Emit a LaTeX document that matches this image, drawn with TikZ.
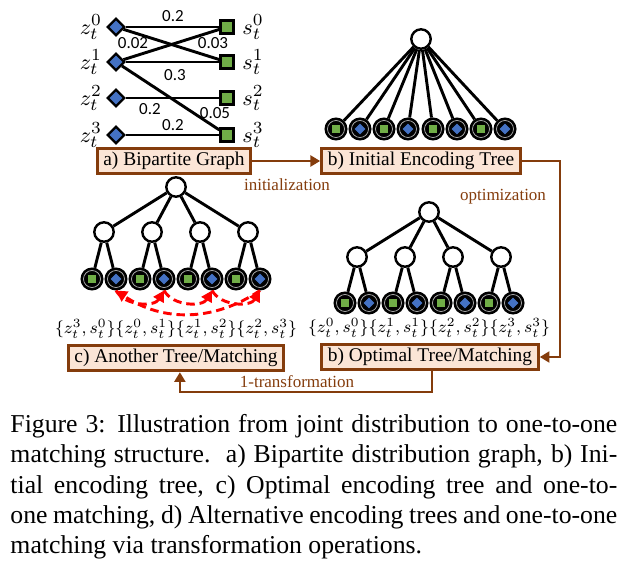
\documentclass[tikz,border=0pt]{standalone}
\usepackage{graphicx}
\usepackage{fontspec}
\setmainfont{Liberation Serif}
\newfontfamily\weightfont{Carlito}
\usetikzlibrary{shapes.geometric, arrows.meta, positioning}

\definecolor{sqgreen}{HTML}{70AD47}
\definecolor{dmblue}{HTML}{4472C4}
\definecolor{stagebrown}{HTML}{843C0C}
\definecolor{stagefill}{HTML}{FBE5D6}

\newcommand{\capline}[1]{\makebox[250pt][s]{#1}}

\begin{document}
\begin{tikzpicture}[
    x=0.412pt, y=-0.412pt,
    zdia/.style={diamond, draw=black, fill=dmblue, line width=0.9pt, minimum size=7.2pt, inner sep=0pt},
    ssq/.style={rectangle, draw=black, fill=sqgreen, line width=0.9pt, minimum size=5.4pt, inner sep=0pt},
    tnode/.style={circle, draw=black, fill=white, line width=1pt, minimum size=8pt, inner sep=0pt},
    leafs/.style={circle, draw=black, fill=black, line width=0.6pt, minimum size=8.9pt, inner sep=0pt,
        path picture={\draw[gray!60, line width=0.3pt] (path picture bounding box.center) circle (3.5pt);
            \filldraw[fill=sqgreen, draw=black, line width=0.4pt, shift={(path picture bounding box.center)}] (-1.8pt,-1.8pt) rectangle (1.8pt,1.8pt);}},
    leafz/.style={circle, draw=black, fill=black, line width=0.6pt, minimum size=8.9pt, inner sep=0pt,
        path picture={\draw[gray!60, line width=0.3pt] (path picture bounding box.center) circle (3.5pt);
            \filldraw[fill=dmblue, draw=black, line width=0.4pt, shift={(path picture bounding box.center)}] (0,2.6pt) -- (2.6pt,0) -- (0,-2.6pt) -- (-2.6pt,0) -- cycle;}},
    varlab/.style={font=\fontsize{9.5}{11}\selectfont, inner sep=0pt},
    weight/.style={font=\weightfont\fontsize{7}{8}\selectfont, inner sep=0pt},
    pairs/.style={font=\fontsize{8}{9.6}\selectfont, inner sep=0pt},
    stage/.style={draw=stagebrown, fill=stagefill, line width=1.3pt, inner xsep=2.5pt, inner ysep=0pt, minimum height=10.4pt, font=\fontsize{8}{9.6}\selectfont},
    steplab/.style={text=stagebrown, font=\fontsize{7}{8.4}\selectfont, inner sep=0pt},
    edge/.style={draw=black, line width=1.2pt},
    flow/.style={-{Triangle[length=4pt, width=4.5pt]}, draw=stagebrown, line width=1pt},
    perm/.style={-{Triangle[length=4.5pt, width=4.8pt]}, draw=red, line width=1.2pt, dash pattern=on 3.5pt off 2pt}
]
    \useasboundingbox (0,0) rectangle (631,564);

    % Bipartite graph
    \node[zdia] (z0) at (116,27) {};
    \node[zdia] (z1) at (116,62) {};
    \node[zdia] (z2) at (116,98) {};
    \node[zdia] (z3) at (116,135) {};
    \node[ssq] (s0) at (227,27) {};
    \node[ssq] (s1) at (227,62) {};
    \node[ssq] (s2) at (227,98) {};
    \node[ssq] (s3) at (227,135) {};
    \node[varlab, left=1.5pt of z0] (lz0) {$z_t^0$};
    \node[varlab, left=1.5pt of z1] (lz1) {$z_t^1$};
    \node[varlab, left=1.5pt of z2] (lz2) {$z_t^2$};
    \node[varlab, left=1.5pt of z3] (lz3) {$z_t^3$};
    \node[varlab, right=3pt of s0] (ls0) {$s_t^0$};
    \node[varlab, right=3pt of s1] (ls1) {$s_t^1$};
    \node[varlab, right=3pt of s2] (ls2) {$s_t^2$};
    \node[varlab, right=3pt of s3] (ls3) {$s_t^3$};

    \draw[edge] (z0) -- (s0); \draw[edge] (z0) -- (s1); \draw[edge] (z1) -- (s0); \draw[edge] (z1) -- (s1);
    \draw[edge] (z1) -- (s3); \draw[edge] (z2) -- (s2); \draw[edge] (z3) -- (s3);

    \node[weight] (w00) at (173,16) {0.2};
    \node[weight] (w10) at (133,43) {0.02};
    \node[weight] (w01) at (213,43) {0.03};
    \node[weight] (w11) at (175,75) {0.3};
    \node[weight] (w22) at (150,109) {0.2};
    \node[weight] (w13) at (215,113) {0.05};
    \node[weight] (w33) at (173,125) {0.2};

    % Initial encoding tree
    \node[tnode] (r0) at (421,39) {};
    \node[leafs] (a1) at (336,129) {}; \node[leafz] (a2) at (360,129) {};
    \node[leafs] (a3) at (384,129) {}; \node[leafz] (a4) at (408,129) {};
    \node[leafs] (a5) at (433,129) {}; \node[leafz] (a6) at (457,129) {};
    \node[leafs] (a7) at (481,129) {}; \node[leafz] (a8) at (505,129) {};
    \draw[edge] (r0) -- (a1); \draw[edge] (r0) -- (a2); \draw[edge] (r0) -- (a3); \draw[edge] (r0) -- (a4);
    \draw[edge] (r0) -- (a5); \draw[edge] (r0) -- (a6); \draw[edge] (r0) -- (a7); \draw[edge] (r0) -- (a8);

    % Optimal tree
    \node[tnode] (r1) at (429,212) {};
    \node[tnode] (m11) at (357,257) {};
    \node[tnode] (m12) at (405,257) {};
    \node[tnode] (m13) at (453,257) {};
    \node[tnode] (m14) at (501,257) {};
    \node[leafs] (b1) at (345,303) {}; \node[leafz] (b2) at (369,303) {};
    \node[leafs] (b3) at (393,303) {}; \node[leafz] (b4) at (417,303) {};
    \node[leafs] (b5) at (441,303) {}; \node[leafz] (b6) at (465,303) {};
    \node[leafs] (b7) at (489,303) {}; \node[leafz] (b8) at (513,303) {};
    \draw[edge] (r1) -- (m11); \draw[edge] (r1) -- (m12); \draw[edge] (r1) -- (m13); \draw[edge] (r1) -- (m14);
    \draw[edge] (m11) -- (b1); \draw[edge] (m11) -- (b2); \draw[edge] (m12) -- (b3); \draw[edge] (m12) -- (b4);
    \draw[edge] (m13) -- (b5); \draw[edge] (m13) -- (b6); \draw[edge] (m14) -- (b7); \draw[edge] (m14) -- (b8);
    \node[pairs] (pb) at (429,328) {\resizebox{99.7pt}{!}{$\{z_t^0,s_t^0\}\{z_t^1,s_t^1\}\{z_t^2,s_t^2\}\{z_t^3,s_t^3\}$}};

    % Another tree
    \node[tnode] (r2) at (176,187) {};
    \node[tnode] (m21) at (104,232) {};
    \node[tnode] (m22) at (152,232) {};
    \node[tnode] (m23) at (200,232) {};
    \node[tnode] (m24) at (248,232) {};
    \node[leafs] (c1) at (92,279) {}; \node[leafz] (c2) at (116,279) {};
    \node[leafs] (c3) at (140,279) {}; \node[leafz] (c4) at (164,279) {};
    \node[leafs] (c5) at (188,279) {}; \node[leafz] (c6) at (212,279) {};
    \node[leafs] (c7) at (236,279) {}; \node[leafz] (c8) at (260,279) {};
    \draw[edge] (r2) -- (m21); \draw[edge] (r2) -- (m22); \draw[edge] (r2) -- (m23); \draw[edge] (r2) -- (m24);
    \draw[edge] (m21) -- (c1); \draw[edge] (m21) -- (c2); \draw[edge] (m22) -- (c3); \draw[edge] (m22) -- (c4);
    \draw[edge] (m23) -- (c5); \draw[edge] (m23) -- (c6); \draw[edge] (m24) -- (c7); \draw[edge] (m24) -- (c8);
    \draw[perm] (c2.south) to[bend right=60] (c4.south);
    \draw[perm] (c4.south) to[bend right=60] (c6.south);
    \draw[perm] (c6.south) to[bend right=60] (c8.south);
    \draw[perm] (c8.south) to[bend left=34] (c2.south);
    \node[pairs] (pc) at (176,329) {\resizebox{99.7pt}{!}{$\{z_t^3,s_t^0\}\{z_t^0,s_t^1\}\{z_t^1,s_t^2\}\{z_t^2,s_t^3\}$}};

    % Stage boxes
    \node[stage] (ga) at (174,161) {a) Bipartite Graph};
    \node[stage] (gb) at (421,161) {b) Initial Encoding Tree};
    \node[stage] (gopt) at (430,357) {b) Optimal Tree/Matching};
    \node[stage] (gc) at (176,358) {c) Another Tree/Matching};

    % Connections
    \coordinate (cr) at (560,161);
    \coordinate (cb) at (432,392);
    \draw[flow] (ga) -- (gb);
    \draw[flow] (gb.east) -- (cr) |- (gopt.east);
    \draw[flow] (gopt.south -| cb) -- (cb) -| ([xshift=1.6pt]gc.south);
    \node[steplab] (linit) at (287,185) {initialization};
    \node[steplab] (lopt) at (503,197) {optimization};
    \node[steplab] (ltrans) at (297,382) {1-transformation};

    % Caption
    \node[anchor=north west, inner sep=0pt, align=left, font=\fontsize{10.6}{12.5}\selectfont] (cap) at (10,414)
        {\capline{Figure 3: Illustration from joint distribution to one-to-one}\\
         \capline{matching structure.\ \ a) Bipartite distribution graph, b) Ini-}\\
         \capline{tial encoding tree, c) Optimal encoding tree and one-to-}\\
         \capline{one matching, d) Alternative encoding trees and one-to-one}\\
         matching via transformation operations.};
\end{tikzpicture}
\end{document}
